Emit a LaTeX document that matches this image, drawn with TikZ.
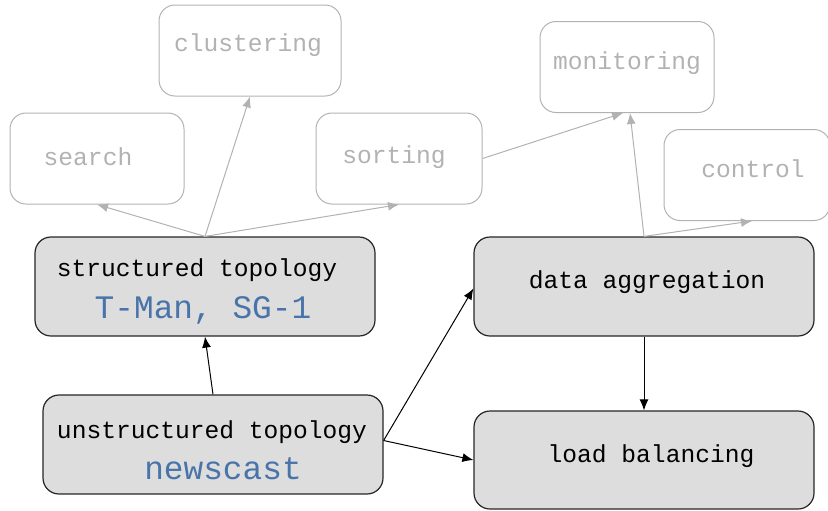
\documentclass[tikz,border=0pt]{standalone}
\usepackage{fontspec}
\newfontfamily\boxfont{Liberation Mono}
\usepackage{xcolor}
\usetikzlibrary{arrows,arrows.meta,positioning,shapes}

\definecolor{faint}{RGB}{178,178,178}
\definecolor{boxgrey}{RGB}{221,221,221}
\definecolor{toolblue}{RGB}{72,116,170}

\tikzset{
  app/.style = {draw=faint, line width=.5pt, rounded corners=8pt, minimum height=45.5pt, inner sep=0pt},
  layer/.style = {draw=black!85, fill=boxgrey, line width=.6pt, rounded corners=8pt, minimum width=170pt, minimum height=49.5pt, inner sep=0pt},
  lbl/.style = {font=\boxfont\fontsize{12.3}{14}\selectfont, inner sep=0pt},
  applbl/.style = {lbl, text=faint},
  tool/.style = {font=\boxfont\fontsize{16.4}{19}\selectfont, text=toolblue, inner sep=0pt},
  >={Latex[length=5.5pt, width=4.5pt]}
}

\begin{document}
\begin{tikzpicture}[x = .5pt, y = -.5pt]
    \clip (0,0) rectangle (828,510);

    % applications on top
    \node[app, minimum width=87pt] (search) at (97,158.5) {};
    \node[app, minimum width=91pt] (clustering) at (250,50.5) {};
    \node[app, minimum width=83pt] (sorting) at (399,158.5) {};
    \node[app, minimum width=87pt] (monitoring) at (627,67) {};
    \node[app, minimum width=83pt] (control) at (747,175) {};

    % overlay services
    \node[layer] (st) at (205,286.5) {};
    \node[layer] (un) at (213,444.5) {};
    \node[layer] (da) at (644,286.5) {};
    \node[layer, minimum height=49pt] (lb) at (644,460) {};

    % Labels
    \node[applbl] (searchTxt) at (88,157) {search};
    \node[applbl] (clusteringTxt) at (248,45) {clustering};
    \node[applbl] (sortingTxt) at (394,157) {sorting};
    \node[applbl] (monitoringTxt) at (627,63) {monitoring};
    \node[applbl] (controlTxt) at (753,169) {control};
    \node[lbl] (stTxt) at (197,270) {structured topology};
    \node[tool] (stTool) at (203,310) {T-Man, SG-1};
    \node[lbl] (unTxt) at (212,432) {unstructured topology};
    \node[tool] (unTool) at (223,469) {newscast};
    \node[lbl] (daTxt) at (647,282) {data aggregation};
    \node[lbl] (lbTxt) at (651,456) {load balancing};

    % light arrows
    \draw[->, faint, line width=.5pt] (st.north) -- (search.south);
    \draw[->, faint, line width=.5pt] (st.north) -- (clustering.south);
    \draw[->, faint, line width=.5pt] (st.north) -- (sorting.south);
    \draw[->, faint, line width=.5pt] (sorting.east) -- ([xshift=-2pt]monitoring.south);
    \draw[->, faint, line width=.5pt] (da.north) -- ([xshift=1.5pt]monitoring.south);
    \draw[->, faint, line width=.5pt] (da.north) -- ([xshift=2.5pt]control.south);

    % dark arrows
    \draw[->, line width=.5pt] (un.north) -- (st.south);
    \draw[->, line width=.5pt] ([yshift=2pt]un.east) -- ([yshift=-1pt]da.west);
    \draw[->, line width=.5pt] ([yshift=2pt]un.east) -- (lb.west);
    \draw[->, line width=.5pt] (da.south) -- (lb.north);
\end{tikzpicture}
\end{document}
